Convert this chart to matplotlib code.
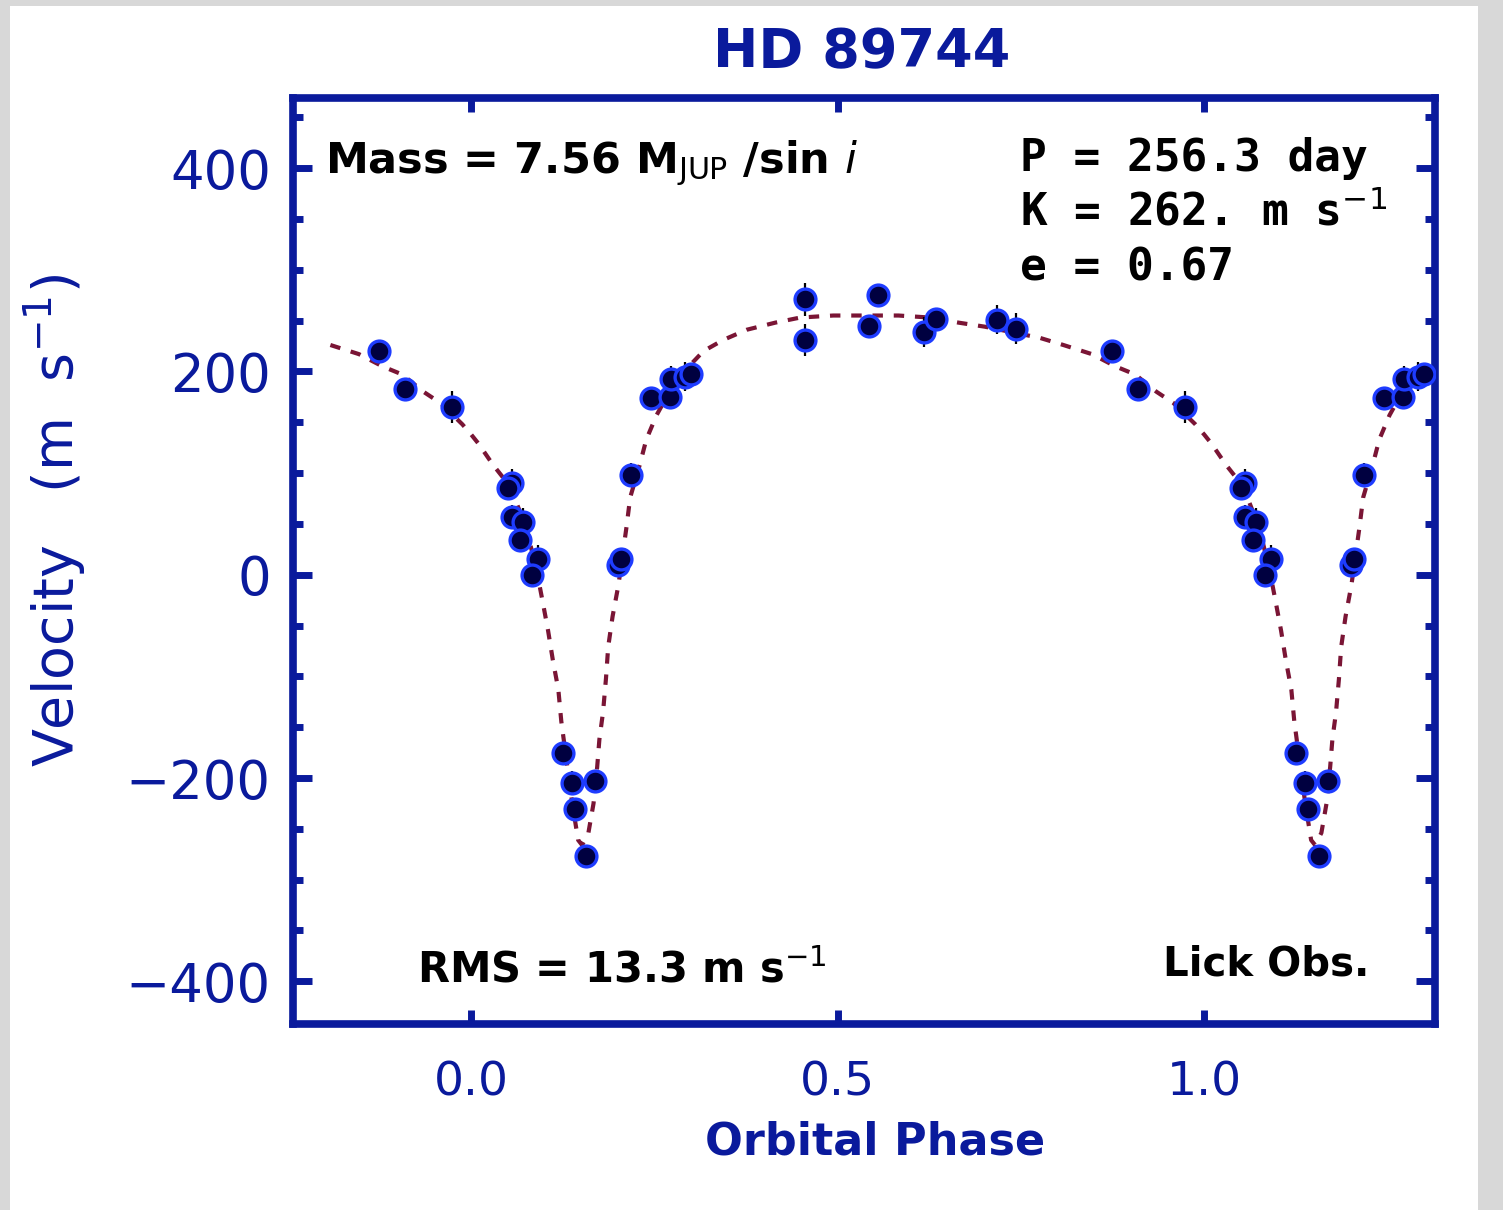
"""
HD 89744 radial velocity curve, phase-folded (Lick Obs.).
Observed velocities with error bars plus the Keplerian fit read off the plot.
"""
import numpy as np
import matplotlib
matplotlib.use("Agg")
import matplotlib.pyplot as plt
from matplotlib.patches import Rectangle

FRAME = "#0a1a9c"
POINT_FACE = "#000040"
POINT_EDGE = "#1e3cff"
CURVE = "#7a1535"

# observed phases (0..1) and velocities (m/s)
phase = [0.0555, 0.0509, 0.0555, 0.0714, 0.0668, 0.0918, 0.0828,
         0.126, 0.137, 0.142, 0.169, 0.157,
         0.201, 0.205, 0.218,
         0.245, 0.271, 0.273, 0.292, 0.300,
         0.456, 0.456, 0.555, 0.543, 0.618, 0.634, 0.718, 0.744,
         0.875, 0.910, 0.974]
velocity = [90, 85, 57, 52, 34, 15, 0,
            -175, -205, -230, -203, -277,
            10, 15, 98,
            174, 175, 193, 195, 197,
            271, 231, 275, 245, 239, 252, 251, 242,
            220, 183, 165]
vel_err = [14, 10, 12, 14, 12, 14, 10,
           10, 12, 10, 10, 10,
           10, 10, 12,
           10, 10, 12, 14, 10,
           16, 16, 10, 10, 15, 10, 14, 15,
           10, 10, 16]

# fitted orbit, one period
fit_phase = [0.000, 0.010, 0.030, 0.053, 0.071, 0.080, 0.090, 0.098, 0.105,
             0.1115, 0.119, 0.123, 0.130, 0.138, 0.146, 0.1514, 0.160,
             0.167, 0.172, 0.175, 0.180, 0.184, 0.187, 0.193, 0.201,
             0.212, 0.217, 0.230, 0.239, 0.253, 0.280, 0.317, 0.344,
             0.376, 0.415, 0.449, 0.494, 0.540, 0.583, 0.626, 0.665,
             0.701, 0.776, 0.808, 0.847, 0.879, 0.906, 0.935, 0.958,
             0.988, 1.000]
fit_vel = [138, 129, 108, 87, 54, 32, 2, -28, -55,
           -84, -113, -144, -182, -225, -261, -266, -254,
           -225, -189, -162, -135, -102, -71, -41, -10,
           47, 76, 108, 133, 157, 192, 220, 231,
           241, 248, 253, 255, 255, 255, 253, 248,
           244, 233, 226, 217, 205, 197, 180, 169,
           148, 138]

XMIN, XMAX = -0.243, 1.315
YMIN, YMAX = -442, 469
CURVE_START = -0.20

fig = plt.figure(figsize=(15.03, 12.10), dpi=100, facecolor="#d8d8d8")
fig.patches.append(Rectangle((10 / 1503, 0), 1468 / 1503, 1204 / 1210,
                             transform=fig.transFigure, facecolor="white",
                             edgecolor="none", zorder=0))
ax = fig.add_axes([293 / 1503, 1 - 1024 / 1210, 1142 / 1503, 926 / 1210])
ax.set_zorder(2)
ax.set_facecolor("white")

# wrap the folded data and the fit into the visible phase window
ph = np.array(phase)
v = np.array(velocity)
err = np.array(vel_err)
for shift in (-1, 0, 1):
    p = ph + shift
    keep = (p > XMIN) & (p < XMAX)
    ax.errorbar(p[keep], v[keep], yerr=err[keep], fmt="none", ecolor="black",
                elinewidth=1.6, capsize=0, zorder=3)

fp = np.concatenate([np.array(fit_phase) + s for s in (-1, 0, 1)])
fv = np.concatenate([fit_vel] * 3)
keep = (fp >= CURVE_START) & (fp <= XMAX)
ax.plot(fp[keep], fv[keep], color=CURVE, lw=3, dashes=(2.5, 2.6), zorder=2)

for shift in (-1, 0, 1):
    p = ph + shift
    keep = (p > XMIN) & (p < XMAX)
    ax.plot(p[keep], v[keep], "o", ms=15, mfc=POINT_FACE, mec=POINT_EDGE,
            mew=2.4, zorder=4)

ax.set_xlim(XMIN, XMAX)
ax.set_ylim(YMIN, YMAX)
ax.set_xticks([0.0, 0.5, 1.0])
ax.set_xticklabels(["0.0", "0.5", "1.0"])
ax.set_yticks([-400, -200, 0, 200, 400])
ax.set_yticklabels(["\u2212400", "\u2212200", "0", "200", "400"])
ax.set_yticks(np.arange(-400, 451, 50), minor=True)

for s in ax.spines.values():
    s.set_color(FRAME)
    s.set_linewidth(5.5)
ax.tick_params(axis="both", which="both", direction="in", colors=FRAME,
               top=True, right=True, width=5)
ax.tick_params(axis="y", which="major", length=14, pad=16, labelsize=38)
ax.tick_params(axis="y", which="minor", length=7)
ax.tick_params(axis="x", which="major", length=10, pad=26, labelsize=34)
for lab in ax.get_xticklabels() + ax.get_yticklabels():
    lab.set_color(FRAME)

fig.text(862 / 1503, 1 - 52 / 1210, "HD 89744", color=FRAME, fontsize=39,
         fontweight="bold", ha="center", va="center")
fig.text(875 / 1503, 1 - 1142 / 1210, "Orbital Phase", color=FRAME,
         fontsize=32, fontweight="bold", ha="center", va="center")
fig.text(55 / 1503, 1 - 520 / 1210, r"Velocity   (m  s$^{-1}$)", color=FRAME,
         fontsize=40, rotation=90, ha="center", va="center")

txt = dict(color="black", fontweight="bold", va="center",
           transform=ax.transAxes)
ax.text(0.028, 0.930, r"Mass = 7.56 M$_{\rm JUP}$ /sin $i$", ha="left",
        fontsize=31, **txt)
ax.text(0.6366, 0.935, "P = 256.3 day", ha="left", family="DejaVu Sans Mono",
        fontsize=32, **txt)
ax.text(0.6366, 0.876, r"K = 262. m s$^{-1}$", ha="left",
        family="DejaVu Sans Mono", fontsize=32, **txt)
ax.text(0.6366, 0.816, "e = 0.67", ha="left", family="DejaVu Sans Mono",
        fontsize=32, **txt)
ax.text(0.109, 0.058, r"RMS = 13.3 m s$^{-1}$", ha="left", fontsize=30,
        **txt)
ax.text(0.762, 0.064, "Lick Obs.", ha="left", fontsize=29, **txt)

fig.savefig("out.png", dpi=100, facecolor=fig.get_facecolor())
